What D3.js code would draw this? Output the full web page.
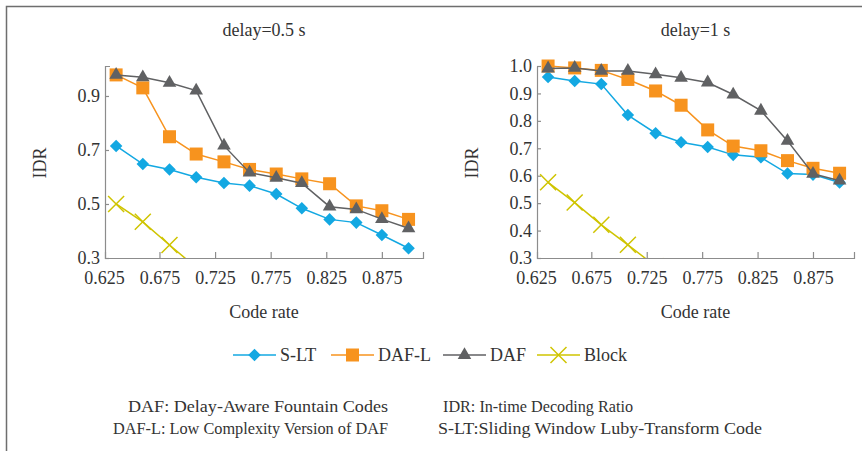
<!DOCTYPE html>
<html>
<head>
<meta charset="utf-8">
<script src="https://cdn.jsdelivr.net/npm/d3@7"></script>
<style>
  body { margin: 0; background: #fff; }
  svg, svg text { font-family: "Liberation Serif", "Times New Roman", Tinos, "DejaVu Serif", serif; }
  .axis path, .axis line { stroke: #8c8c8c; stroke-width: 1.2; }
  .axis text { font-size: 18px; fill: #333; }
</style>
</head>
<body>
<div id="chart"></div>
<script>
// code rate of each point
const codeRates = [0.636, 0.660, 0.684, 0.708, 0.733, 0.756, 0.780, 0.803, 0.828, 0.852, 0.875, 0.899];
const xTicks = [0.625, 0.675, 0.725, 0.775, 0.825, 0.875];

// delay = 0.5 s
const sltHalf  = [0.715, 0.648, 0.628, 0.599, 0.578, 0.568, 0.537, 0.484, 0.443, 0.431, 0.385, 0.336];
const dafLHalf = [0.978, 0.930, 0.749, 0.685, 0.656, 0.628, 0.611, 0.593, 0.575, 0.493, 0.475, 0.443];
const dafHalf  = [0.978, 0.969, 0.949, 0.920, 0.716, 0.616, 0.597, 0.577, 0.490, 0.480, 0.444, 0.410];
const blockHalf = [0.500, 0.434, 0.348, 0.265];
const yTicksHalf = [0.3, 0.5, 0.7, 0.9];

// delay = 1 s
const sltOne  = [0.960, 0.945, 0.934, 0.821, 0.755, 0.722, 0.705, 0.676, 0.667, 0.608, 0.604, 0.575];
const dafLOne = [1.000, 0.993, 0.984, 0.951, 0.909, 0.857, 0.767, 0.708, 0.691, 0.655, 0.627, 0.609];
const dafOne  = [0.991, 0.993, 0.982, 0.982, 0.970, 0.957, 0.940, 0.896, 0.837, 0.727, 0.607, 0.582];
const blockOne = [0.576, 0.502, 0.421, 0.348, 0.270];
const yTicksOne = [0.3, 0.4, 0.5, 0.6, 0.7, 0.8, 0.9, 1.0];

const seriesNames = ["S-LT", "DAF-L", "DAF", "Block"];
const notesLeft = ["DAF: Delay-Aware Fountain Codes", "DAF-L: Low Complexity Version of DAF"];
const notesRight = ["IDR: In-time Decoding Ratio", "S-LT:Sliding Window Luby-Transform Code"];

const styles = {
    "S-LT":  { color: "#13a8e2", marker: "diamond" },
    "DAF-L": { color: "#f7931e", marker: "square" },
    "DAF":   { color: "#606163", marker: "triangle" },
    "Block": { color: "#cfc400", marker: "cross" }
};

const FONT = '"Liberation Serif", "Times New Roman", Tinos, "DejaVu Serif", serif';
const W = 862, H = 451;
const svg = d3.select("#chart").append("svg")
    .attr("width", W)
    .attr("height", H)
    .attr("font-family", FONT);

// frame (top and left edges only)
svg.append("path")
    .attr("d", `M6.5,${H} V6.5 H${W}`)
    .attr("fill", "none")
    .attr("stroke", "#6e6e6e")
    .attr("stroke-width", 1.5);

function drawMarker(g, type, color, x, y) {
    if (type === "diamond") {
        g.append("path")
            .attr("d", d3.symbol(d3.symbolDiamond2, 100)())
            .attr("transform", `translate(${x},${y})`)
            .attr("fill", color);
    } else if (type === "square") {
        g.append("rect")
            .attr("x", x - 6.5).attr("y", y - 6.5)
            .attr("width", 13).attr("height", 13)
            .attr("fill", color);
    } else if (type === "triangle") {
        g.append("path")
            .attr("d", d3.symbol(d3.symbolTriangle, 80)())
            .attr("transform", `translate(${x},${y})`)
            .attr("fill", color);
    } else {
        g.append("path")
            .attr("d", `M${x - 8},${y - 8}L${x + 8},${y + 8}M${x - 8},${y + 8}L${x + 8},${y - 8}`)
            .attr("stroke", color)
            .attr("stroke-width", 1.5);
    }
}

function drawPanel(p) {
    const x = d3.scaleLinear().domain([0.626, 0.912]).range([p.left, p.right]);
    const y = d3.scaleLinear().domain(p.yDomain).range([258, 66]);

    const g = svg.append("g");

    g.append("clipPath").attr("id", p.id)
        .append("rect")
        .attr("x", p.left).attr("y", 40)
        .attr("width", p.right - p.left + 10).attr("height", 258 - 40);

    // axes
    g.append("g")
        .attr("class", "axis")
        .attr("transform", "translate(0,258)")
        .call(d3.axisBottom(x)
            .tickValues(xTicks)
            .tickFormat(d3.format(".3f"))
            .tickSizeInner(-6)
            .tickSizeOuter(-6)
            .tickPadding(13))
        .call(a => a.selectAll(".tick").filter(d => d === 0.625).select("line").remove())
        .call(a => a.selectAll("text").attr("font-family", FONT));

    g.append("g")
        .attr("class", "axis")
        .attr("transform", `translate(${p.left},0)`)
        .call(d3.axisLeft(y)
            .tickValues(p.yTicks)
            .tickFormat(d3.format(".1f"))
            .tickSizeInner(-4)
            .tickSizeOuter(p.outer)
            .tickPadding(5))
        .call(a => a.selectAll("text").attr("font-family", FONT));

    // titles
    g.append("text")
        .attr("x", (p.left + p.right) / 2)
        .attr("y", 36)
        .attr("text-anchor", "middle")
        .attr("font-size", 18)
        .attr("fill", "#333")
        .text(p.title);

    g.append("text")
        .attr("x", (p.left + p.right) / 2)
        .attr("y", 318)
        .attr("text-anchor", "middle")
        .attr("font-size", 18)
        .attr("fill", "#333")
        .text("Code rate");

    g.append("text")
        .attr("transform", `translate(${p.left - 59},163) rotate(-90)`)
        .attr("text-anchor", "middle")
        .attr("font-size", 18)
        .attr("fill", "#333")
        .text("IDR");

    const plot = g.append("g").attr("clip-path", `url(#${p.id})`);

    const line = d3.line()
        .x((d, i) => x(codeRates[i]))
        .y(d => y(d));

    // draw order: Block, S-LT, DAF-L, DAF on top
    ["Block", "S-LT", "DAF-L", "DAF"].forEach(name => {
        const vals = p.series[name];
        const st = styles[name];
        plot.append("path")
            .datum(vals)
            .attr("d", line)
            .attr("fill", "none")
            .attr("stroke", st.color)
            .attr("stroke-width", 1.5);
        const mg = plot.append("g");
        vals.forEach((v, i) => drawMarker(mg, st.marker, st.color, x(codeRates[i]), y(v)));
    });
}

drawPanel({
    id: "clipHalf", left: 105, right: 423, yDomain: [0.3, 1.011], yTicks: yTicksHalf, outer: -5,
    title: "delay=0.5 s",
    series: { "S-LT": sltHalf, "DAF-L": dafLHalf, "DAF": dafHalf, "Block": blockHalf }
});

drawPanel({
    id: "clipOne", left: 537, right: 854, yDomain: [0.3, 1.0], yTicks: yTicksOne, outer: 0,
    title: "delay=1 s",
    series: { "S-LT": sltOne, "DAF-L": dafLOne, "DAF": dafOne, "Block": blockOne }
});

// legend
const legendX = [233, 331, 443, 537];
const legend = svg.append("g").attr("transform", "translate(0,355)");
seriesNames.forEach((name, i) => {
    const st = styles[name];
    const lg = legend.append("g");
    lg.append("line")
        .attr("x1", legendX[i]).attr("x2", legendX[i] + 43)
        .attr("y1", 0).attr("y2", 0)
        .attr("stroke", st.color)
        .attr("stroke-width", 1.5);
    drawMarker(lg, st.marker, st.color, legendX[i] + 21.5, 0);
    lg.append("text")
        .attr("x", legendX[i] + 47)
        .attr("y", 6)
        .attr("font-size", 18)
        .attr("fill", "#333")
        .text(name);
});

// notes under the legend (the original face is a little wider)
const notes = svg.append("g").attr("font-size", 16).attr("fill", "#333");
const leftWidths = [260, 275], rightWidths = [190, 324];
notesLeft.forEach((t, i) => {
    notes.append("text")
        .attr("x", 388 - leftWidths[i]).attr("y", 412 + i * 22)
        .attr("textLength", leftWidths[i])
        .attr("lengthAdjust", "spacingAndGlyphs")
        .text(t);
});
notesRight.forEach((t, i) => {
    notes.append("text")
        .attr("x", i === 0 ? 443 : 438).attr("y", 412 + i * 22)
        .attr("textLength", rightWidths[i])
        .attr("lengthAdjust", "spacingAndGlyphs")
        .text(t);
});
</script>
</body>
</html>
